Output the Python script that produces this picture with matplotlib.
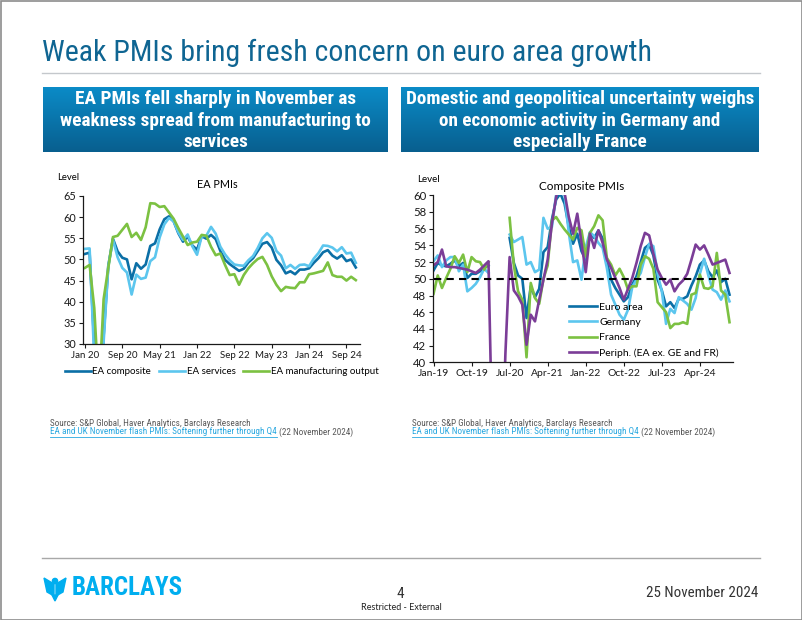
import os
import numpy as np
import matplotlib
matplotlib.use('Agg')
import matplotlib.pyplot as plt
from matplotlib import font_manager
from matplotlib.font_manager import FontProperties
from matplotlib.colors import LinearSegmentedColormap
from matplotlib.patches import Rectangle, Polygon, Circle

nan = np.nan

# painel esquerdo: EA PMIs, Jan 2020 - Nov 2024
left_ticks = ['Jan 20', 'Sep 20', 'May 21', 'Jan 22', 'Sep 22', 'May 23', 'Jan 24', 'Sep 24']
ea_composite = [51.3, 51.6, 29.7, 13.6, 31.9, 48.5, 54.9, 51.9, 50.4, 50.0, 45.3, 49.1,
                47.8, 48.8, 53.2, 53.8, 57.1, 59.5, 60.2, 59.0, 56.2, 54.2, 55.4, 53.3,
                52.3, 55.5, 54.9, 55.8, 54.8, 52.0, 49.9, 48.9, 48.1, 47.3, 47.8, 49.3,
                50.3, 52.0, 53.7, 54.1, 52.8, 49.9, 48.6, 46.7, 47.2, 46.5, 47.6, 47.6,
                47.9, 49.2, 50.3, 51.7, 52.2, 50.9, 50.2, 51.0, 49.6, 50.0, 48.1]
ea_services = [52.5, 52.6, 26.4, 12.0, 30.5, 48.3, 54.7, 50.5, 48.0, 46.9, 41.7, 46.4,
               45.4, 45.7, 49.6, 50.5, 55.2, 58.3, 59.8, 59.0, 56.4, 54.6, 55.9, 53.1,
               51.1, 55.5, 55.6, 57.7, 56.1, 53.0, 51.2, 49.8, 48.8, 48.6, 48.5, 49.8,
               50.8, 52.7, 55.0, 56.2, 55.1, 52.0, 50.9, 47.9, 48.7, 47.8, 48.7, 48.8,
               48.4, 50.2, 51.5, 53.3, 53.2, 52.8, 51.9, 52.9, 51.4, 51.6, 49.2]
ea_mfg_output = [48.0, 48.7, 38.5, 18.4, 40.6, 48.0, 55.3, 55.6, 57.0, 58.4, 55.3, 56.3,
                 54.6, 57.6, 63.3, 63.2, 62.4, 62.6, 61.1, 59.6, 57.4, 55.4, 53.4, 54.0,
                 54.2, 55.8, 55.6, 53.0, 51.0, 51.4, 48.7, 46.3, 46.5, 44.0, 46.3, 47.9,
                 49.1, 50.1, 50.6, 48.7, 46.0, 44.0, 42.5, 43.5, 43.3, 43.2, 44.6, 44.6,
                 46.5, 46.7, 47.0, 47.3, 49.3, 46.3, 45.9, 45.9, 45.0, 45.9, 45.1]

# painel direito: Composite PMIs, Jan 2019 - Nov 2024
right_ticks = ['Jan-19', 'Oct-19', 'Jul-20', 'Apr-21', 'Jan-22', 'Oct-22', 'Jul-23', 'Apr-24']
euro_area = [51.0, 51.9, 51.6, 51.5, 51.8, 52.2, 51.5, 51.9, 50.1, 50.6, 50.6, 50.9,
             51.3, 51.6, nan, nan, nan, nan, 54.9, 51.9, 50.4, 50.0, 45.3, 49.1,
             47.8, 48.8, 53.2, 53.8, 57.1, 59.5, 60.2, 59.0, 56.2, 54.2, 55.4, 53.3,
             52.3, 55.5, 54.9, 55.8, 54.8, 52.0, 49.9, 48.9, 48.1, 47.3, 47.8, 49.3,
             50.3, 52.0, 53.7, 54.1, 52.8, 49.9, 48.6, 46.7, 47.2, 46.5, 47.6, 47.6,
             47.9, 49.2, 50.3, 51.7, 52.2, 50.9, 50.2, 51.0, 49.6, 50.0, 48.1]
germany = [52.1, 52.8, 51.4, 52.2, 52.6, 52.6, 50.9, 51.7, 48.5, 48.9, 49.4, 50.2,
           51.2, 50.7, nan, nan, nan, nan, 55.3, 54.4, 54.7, 55.0, 51.7, 52.0,
           50.8, 51.1, 57.3, 56.0, 56.2, 60.1, 62.4, 60.0, 55.5, 52.0, 52.2, 49.9,
           53.8, 55.6, 55.1, 54.3, 53.7, 51.3, 48.1, 46.9, 45.7, 45.1, 46.3, 49.0,
           49.9, 50.7, 52.6, 54.2, 53.9, 50.6, 48.5, 44.6, 46.4, 45.9, 47.8, 47.4,
           47.0, 46.3, 47.7, 50.6, 52.4, 50.4, 48.7, 48.4, 47.5, 48.6, 47.3]
france = [48.2, 50.4, 48.9, 50.1, 51.2, 52.7, 51.9, 52.9, 50.8, 52.6, 52.1, 52.0,
          51.1, 52.0, nan, nan, nan, nan, 57.3, 51.6, 48.5, 47.5, 40.6, 49.5,
          47.7, 47.0, 50.0, 51.6, 57.0, 57.4, 56.6, 55.9, 55.3, 54.7, 56.1, 55.8,
          52.7, 55.5, 56.3, 57.6, 57.0, 52.5, 51.7, 50.4, 51.2, 50.2, 48.7, 49.1,
          49.1, 51.7, 52.7, 52.4, 51.2, 47.2, 46.6, 46.0, 44.1, 44.6, 44.6, 44.8,
          44.6, 48.1, 48.3, 50.5, 48.9, 48.8, 49.1, 53.1, 48.6, 48.1, 44.8]
periphery = [51.6, 52.0, 53.5, 51.5, 51.4, 51.4, 51.3, 51.2, 51.1, 50.9, 50.7, 51.1,
             51.6, 52.1, 28.0, 12.0, 25.0, 41.0, 52.6, 48.6, 47.9, 46.9, 42.1, 45.7,
             44.9, 47.5, 49.9, 52.3, 56.6, 59.8, 61.5, 60.3, 57.4, 55.4, 57.8, 54.3,
             50.8, 55.4, 53.7, 55.8, 54.3, 52.3, 51.3, 50.1, 48.9, 47.5, 48.8, 50.1,
             51.9, 53.9, 55.5, 55.2, 53.0, 51.1, 50.1, 49.3, 49.9, 48.5, 49.3, 49.8,
             50.6, 52.3, 54.1, 53.5, 54.0, 52.9, 51.7, 51.9, 52.1, 52.3, 50.7]

c_dark = '#0b6fa6'
c_light = '#5cc6ee'
c_green = '#7cc142'
c_purple = '#7b3d97'
chart_font = 'Lato'


def find_narrow(bold):
    # procura uma fonte estreita instalada (Arial Narrow não existe aqui)
    files = sorted({f.fname for f in font_manager.fontManager.ttflist})
    prefs = ['LiberationSansNarrow', 'RobotoCondensed', 'Roboto-Condensed',
             'NotoSans-Condensed', 'DejaVuSansCondensed', 'OpenSans-Condensed',
             'OpenSansCondensed', 'OpenSans_Condensed']
    skip = ['italic', 'light', 'thin', 'medium', 'black', 'semi', 'extra', 'oblique']
    for p in prefs:
        for fn in files:
            b = os.path.basename(fn)
            low = b.lower()
            if not b.startswith(p) or any(k in low for k in skip):
                continue
            if bold == ('bold' in low):
                return FontProperties(fname=fn)
    return FontProperties(family='Liberation Sans', weight='bold' if bold else 'normal')


narrow = find_narrow(False)
narrow_bold = find_narrow(True)

fig = plt.figure(figsize=(8.02, 6.2), dpi=100)
renderer = fig.canvas.get_renderer()


def fit(t, width_px):
    # ajusta o tamanho da fonte à largura medida na imagem
    w = t.get_window_extent(renderer).width
    t.set_fontsize(t.get_fontsize() * width_px / w)


# fundo do slide em coordenadas de pixel
bg = fig.add_axes([0, 0, 1, 1])
bg.axis('off')
bg.set_xlim(0, 802)
bg.set_ylim(620, 0)

bg.add_patch(Rectangle((0.5, 0.5), 801, 619, fill=False, edgecolor='#8c8c8c', lw=1.2))
t = bg.text(42, 53, 'Weak PMIs bring fresh concern on euro area growth', fontproperties=narrow,
            fontsize=20, color='#0f6592', va='center')
fit(t, 608)
bg.plot([42, 760], [73, 73], color='#c4c8cc', lw=1)

cmap_box = LinearSegmentedColormap.from_list('box', ['#0b8bc7', '#085f8f'])
grad = np.linspace(0, 1, 64).reshape(-1, 1)
boxes = [(43, 388, 310, 'EA PMIs fell sharply in November as\nweakness spread from manufacturing to\nservices'),
         (401, 759, 350, 'Domestic and geopolitical uncertainty weighs\non economic activity in Germany and\nespecially France')]
for x0, x1, wpx, txt in boxes:
    bg.imshow(grad, extent=[x0, x1, 152, 87], aspect='auto', cmap=cmap_box, origin='upper')
    t = bg.text((x0 + x1) / 2, 120.5, txt, ha='center', va='center', color='white',
                fontproperties=narrow_bold, fontsize=12, linespacing=1.22)
    fit(t, wpx)

# rodapé
bg.plot([42, 760], [558, 558], color='#a8a8a8', lw=1)
bg.add_patch(Polygon([(44, 578), (54, 584), (54, 596), (47, 592)], color='#00aeef'))
bg.add_patch(Polygon([(66, 578), (56, 584), (56, 596), (63, 592)], color='#00aeef'))
bg.add_patch(Polygon([(52, 595), (58, 595), (55, 601)], color='#00aeef'))
bg.add_patch(Circle((55, 581), 2.6, color='#00aeef'))
t = bg.text(72, 588, 'BARCLAYS', fontproperties=narrow_bold, fontsize=16, color='#00aeef',
            va='center')
fit(t, 111)
bg.text(400, 594, '4', fontproperties=narrow, fontsize=11, color='#333333', ha='center',
        va='center')
bg.text(401, 608, 'Restricted - External', fontsize=6.5, color='#222222', ha='center',
        va='center', family=chart_font)
t = bg.text(758, 593, '25 November 2024', fontproperties=narrow, fontsize=12,
            color='#333333', ha='right', va='center')
fit(t, 112)

bg.set_xlim(0, 802)
bg.set_ylim(620, 0)

# fontes e link
inv = bg.transData.inverted()
for xs in [50, 412]:
    t = bg.text(xs, 423, 'Source: S&P Global, Haver Analytics, Barclays Research',
                fontproperties=narrow, fontsize=6.5, color='#595959', va='center')
    fit(t, 200)
    fs = t.get_fontsize()
    link = bg.text(xs, 432, 'EA and UK November flash PMIs: Softening further through Q4',
                   fontproperties=narrow, fontsize=fs, color='#29a8e0', va='center')
    ext = link.get_window_extent(renderer)
    (lx0, ly0), (lx1, ly1) = inv.transform([[ext.x0, ext.y0], [ext.x1, ext.y1]])
    bg.plot([lx0, lx1], [ly0 + 0.3, ly0 + 0.3], color='#29a8e0', lw=0.6)
    bg.text(lx1 + 2, 432, '(22 November 2024)', fontproperties=narrow, fontsize=fs,
            color='#595959', va='center')


def style_axis(ax, xsize, ysize):
    for s in ['top', 'right']:
        ax.spines[s].set_visible(False)
    for s in ['left', 'bottom']:
        ax.spines[s].set_color('#1a1a1a')
        ax.spines[s].set_linewidth(0.9)
    ax.tick_params(direction='out', length=3, width=0.8, colors='#1a1a1a', pad=2)
    ax.tick_params(axis='x', labelsize=xsize)
    ax.tick_params(axis='y', labelsize=ysize)
    for lab in ax.get_xticklabels() + ax.get_yticklabels():
        lab.set_family(chart_font)


# gráfico esquerdo
ax1 = fig.add_axes([83.3 / 802, (620 - 344) / 620, 276.7 / 802, 148 / 620])
x1 = np.arange(len(ea_composite))
ax1.plot(x1, ea_composite, color=c_dark, lw=1.9, label='EA composite')
ax1.plot(x1, ea_services, color=c_light, lw=1.9, label='EA services')
ax1.plot(x1, ea_mfg_output, color=c_green, lw=1.9, label='EA manufacturing output')
ax1.set_xlim(-0.35, 58.9)
ax1.set_ylim(30, 65)
ax1.set_yticks(range(30, 66, 5))
ax1.set_xticks(np.arange(0, len(x1), 8))
ax1.set_xticklabels(left_ticks)
style_axis(ax1, 7, 7.8)
ax1.legend(loc='upper left', bbox_to_anchor=(-0.085, -0.125), ncol=3, frameon=False,
           handlelength=2.7, handletextpad=0.15, columnspacing=0.8, borderpad=0,
           prop={'family': chart_font, 'size': 7})
bg.text(68, 177, 'Level', fontsize=6.8, ha='center', va='center', family=chart_font)
bg.text(217, 185, 'EA PMIs', fontsize=7.8, ha='center', va='center', family=chart_font)

# gráfico direito
ax2 = fig.add_axes([433.3 / 802, (620 - 362.3) / 620, 300 / 802, 167 / 620])
x2 = np.arange(len(euro_area))
ax2.plot(x2, euro_area, color=c_dark, lw=1.9, label='Euro area')
ax2.plot(x2, germany, color=c_light, lw=1.9, label='Germany')
ax2.plot(x2, france, color=c_green, lw=1.9, label='France')
ax2.plot(x2, periphery, color=c_purple, lw=1.9, label='Periph. (EA ex. GE and FR)')
ax2.plot([0, 70], [50, 50], color='black', lw=1.5, ls=(0, (3.5, 2.5)))
ax2.set_xlim(-0.05, 70.9)
ax2.set_ylim(40, 60)
ax2.set_yticks(range(40, 61, 2))
ax2.set_xticks(np.arange(0, len(x2), 9))
ax2.set_xticklabels(right_ticks)
style_axis(ax2, 7.5, 8.2)
ax2.legend(loc='lower left', bbox_to_anchor=(0.435, -0.005), frameon=False,
           handlelength=2.7, handletextpad=0.2, labelspacing=0.58, borderpad=0,
           prop={'family': chart_font, 'size': 7.5})
bg.text(428, 179, 'Level', fontsize=7, ha='center', va='center', family=chart_font)
bg.text(582, 186, 'Composite PMIs', fontsize=8.5, ha='center', va='center', family=chart_font)

fig.savefig('out.png', dpi=100)
